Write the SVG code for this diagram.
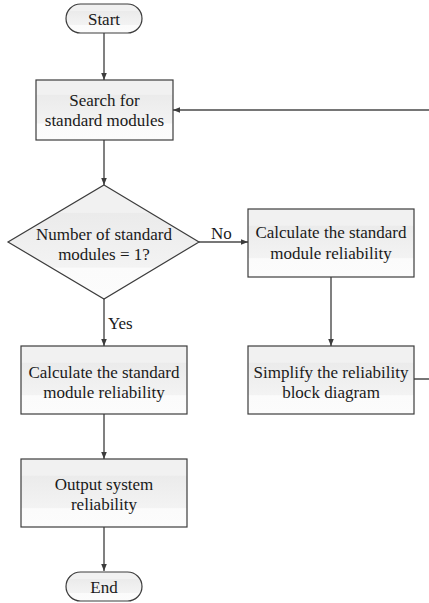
<svg xmlns="http://www.w3.org/2000/svg" width="429" height="603" viewBox="0 0 429 603">
  <defs>
    <linearGradient id="fillGloss" x1="0" y1="0" x2="0" y2="1">
      <stop offset="0" stop-color="#f1f1f1"/>
      <stop offset="0.24" stop-color="#f1f1f1"/>
      <stop offset="0.25" stop-color="#ebebeb"/>
      <stop offset="0.72" stop-color="#f3f3f3"/>
      <stop offset="0.73" stop-color="#fbfbfb"/>
      <stop offset="1" stop-color="#fcfcfc"/>
    </linearGradient>
    <marker id="arrow" viewBox="0 0 7 6" refX="7" refY="3" markerWidth="7" markerHeight="6" markerUnits="userSpaceOnUse" orient="auto">
      <path d="M0,0.2 L7,3 L0,5.8 Z" fill="#3c3c3c"/>
    </marker>
  </defs>
  <style>
    .shape { fill: url(#fillGloss); stroke: #3c3c3c; stroke-width: 1.2; }
    .edge { fill: none; stroke: #4a4a4a; stroke-width: 1.4; }
  </style>

  <g id="connectors">
    <path class="edge" d="M104,33 V80" marker-end="url(#arrow)"/>
    <path class="edge" d="M104,140 V185" marker-end="url(#arrow)"/>
    <path class="edge" d="M199,242 H248" marker-end="url(#arrow)"/>
    <path class="edge" d="M104,299 V346" marker-end="url(#arrow)"/>
    <path class="edge" d="M331,277 V346" marker-end="url(#arrow)"/>
    <path class="edge" d="M104,414 V459" marker-end="url(#arrow)"/>
    <path class="edge" d="M104,527 V571" marker-end="url(#arrow)"/>
    <path class="edge" d="M414,379 H434 V110 H173" marker-end="url(#arrow)"/>
    <text x="211" y="239" font-family="Liberation Serif" font-size="17" fill="#1a1a1a">No</text>
    <text x="108" y="329" font-family="Liberation Serif" font-size="17" fill="#1a1a1a">Yes</text>
  </g>

  <g id="start">
    <rect class="shape" x="66" y="4" width="76" height="29" rx="14.5" ry="14.5"/>
    <text x="104" y="25" font-family="Liberation Serif" font-size="17" fill="#1a1a1a" text-anchor="middle">Start</text>
  </g>

  <g id="search">
    <rect class="shape" x="36" y="80" width="137" height="60"/>
    <text x="104.5" y="106" font-family="Liberation Serif" font-size="17" fill="#1a1a1a" text-anchor="middle">Search for</text>
    <text x="104.5" y="126" font-family="Liberation Serif" font-size="17" fill="#1a1a1a" text-anchor="middle">standard modules</text>
  </g>

  <g id="decision">
    <polygon class="shape" points="104,185 199,242 104,299 8,242"/>
    <text x="104" y="240" font-family="Liberation Serif" font-size="17" fill="#1a1a1a" text-anchor="middle">Number of standard</text>
    <text x="104" y="260" font-family="Liberation Serif" font-size="17" fill="#1a1a1a" text-anchor="middle">modules = 1?</text>
  </g>

  <g id="calc-multi">
    <rect class="shape" x="248" y="209" width="166" height="68"/>
    <text x="331" y="238" font-family="Liberation Serif" font-size="17" fill="#1a1a1a" text-anchor="middle">Calculate the standard</text>
    <text x="331" y="259" font-family="Liberation Serif" font-size="17" fill="#1a1a1a" text-anchor="middle">module reliability</text>
  </g>

  <g id="simplify">
    <rect class="shape" x="248" y="346" width="166" height="68"/>
    <text x="331" y="378" font-family="Liberation Serif" font-size="17" fill="#1a1a1a" text-anchor="middle">Simplify the reliability</text>
    <text x="331" y="398" font-family="Liberation Serif" font-size="17" fill="#1a1a1a" text-anchor="middle">block diagram</text>
  </g>

  <g id="calc-single">
    <rect class="shape" x="21" y="346" width="166" height="68"/>
    <text x="104" y="378" font-family="Liberation Serif" font-size="17" fill="#1a1a1a" text-anchor="middle">Calculate the standard</text>
    <text x="104" y="398" font-family="Liberation Serif" font-size="17" fill="#1a1a1a" text-anchor="middle">module reliability</text>
  </g>

  <g id="output">
    <rect class="shape" x="21" y="459" width="166" height="68"/>
    <text x="104" y="490" font-family="Liberation Serif" font-size="17" fill="#1a1a1a" text-anchor="middle">Output system</text>
    <text x="104" y="510" font-family="Liberation Serif" font-size="17" fill="#1a1a1a" text-anchor="middle">reliability</text>
  </g>

  <g id="end">
    <rect class="shape" x="66" y="572" width="76" height="29" rx="14.5" ry="14.5"/>
    <text x="104" y="593" font-family="Liberation Serif" font-size="17" fill="#1a1a1a" text-anchor="middle">End</text>
  </g>
</svg>
